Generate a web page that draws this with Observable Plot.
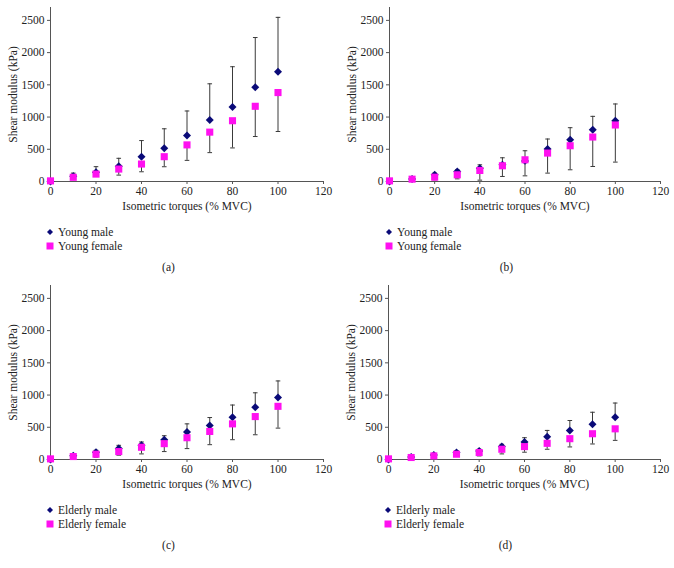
<!DOCTYPE html>
<html>
<head>
<meta charset="utf-8">
<script src="https://cdn.jsdelivr.net/npm/d3@7"></script>
<script src="https://cdn.jsdelivr.net/npm/@observablehq/plot@0.6"></script>
<style>
  body { margin: 0; background: #fff; }
  #root { position: relative; width: 674px; height: 568px; font-family: "Liberation Serif", "DejaVu Serif", serif; color: #222; }
  .panel { position: absolute; width: 337px; }
  .legend { position: absolute; font-size: 11.5px; line-height: 14px; }
  .legend div { display: flex; align-items: center; height: 14px; }
  .legend svg { margin-right: 4px; }
  .caption { position: absolute; width: 337px; text-align: center; font-size: 11.5px; }
</style>
</head>
<body>
<div id="root"></div>
<script>
// ---- data ----
const torque = [0, 10, 20, 30, 40, 50, 60, 70, 80, 90, 100];
const xTicks = [0, 20, 40, 60, 80, 100, 120];
const yTicks = [0, 500, 1000, 1500, 2000, 2500];
const panelLetters = ["(a)", "(b)", "(c)", "(d)"];
const maleNames = ["Young male", "Young male", "Elderly male", "Elderly male"];
const femaleNames = ["Young female", "Young female", "Elderly female", "Elderly female"];

// (a) young, (b) young, (c) elderly, (d) elderly
const maleMeanA = [0, 80, 145, 235, 385, 516, 714, 953, 1156, 1464, 1703];
const maleSDA = [0, 50, 85, 125, 250, 302, 380, 563, 625, 770, 844];
const femaleMeanA = [10, 65, 115, 193, 271, 385, 568, 766, 943, 1167, 1380];
const femaleSDA = [0, 12, 37, 94, 120, 156, 240, 318, 422, 469, 604];

const maleMeanB = [0, 40, 104, 155, 207, 259, 320, 503, 648, 804, 944];
const maleSDB = [0, 10, 26, 25, 52, 109, 157, 156, 187, 207, 259];
const femaleMeanB = [10, 36, 67, 104, 171, 244, 337, 441, 555, 690, 877];
const femaleSDB = [0, 10, 41, 63, 150, 166, 249, 311, 373, 457, 576];

const maleMeanC = [0, 60, 113, 169, 220, 307, 425, 528, 656, 809, 963];
const maleSDC = [0, 17, 30, 51, 52, 62, 128, 123, 189, 226, 256];
const femaleMeanC = [10, 46, 82, 123, 190, 246, 338, 435, 553, 666, 825];
const femaleSDC = [0, 10, 46, 56, 103, 123, 169, 205, 246, 282, 338];

const maleMeanD = [0, 40, 70, 108, 133, 200, 272, 353, 451, 548, 656];
const maleSDD = [0, 8, 15, 25, 26, 36, 66, 98, 154, 185, 220];
const femaleMeanD = [10, 31, 56, 82, 108, 159, 200, 251, 323, 400, 476];
const femaleSDD = [0, 8, 10, 31, 52, 72, 87, 92, 128, 159, 179];

const maleColor = "#0a0a78";
const femaleColor = "#ff10f0";
const barColor = "#3a3a3a";

// ---- layout ----
const panels = [
  {m: maleMeanA, ms: maleSDA, f: femaleMeanA, fs: femaleSDA, left: 0, top: 0, ml: 50, mr: 14},
  {m: maleMeanB, ms: maleSDB, f: femaleMeanB, fs: femaleSDB, left: 338, top: 0, ml: 51, mr: 14},
  {m: maleMeanC, ms: maleSDC, f: femaleMeanC, fs: femaleSDC, left: 0, top: 278, ml: 50, mr: 14},
  {m: maleMeanD, ms: maleSDD, f: femaleMeanD, fs: femaleSDD, left: 337, top: 278, ml: 51, mr: 14}
];

const capSymbol = {
  draw(context) { context.moveTo(-2.3, 0); context.lineTo(2.3, 0); }
};

const root = document.getElementById("root");

panels.forEach((p, i) => {
  const male = torque.map((x, k) => ({x, y: p.m[k], lo: p.m[k], hi: p.m[k] + p.ms[k]}));
  const female = torque.map((x, k) => ({x, y: p.f[k], lo: p.f[k] - p.fs[k], hi: p.f[k]}));
  const maleBars = male.filter(d => d.hi > d.lo);
  const femaleBars = female.filter(d => d.hi > d.lo);

  const chart = Plot.plot({
    width: 337 - (p.left === 338 ? 1 : 0),
    height: 216,
    marginLeft: p.ml,
    marginRight: p.mr,
    marginTop: 7,
    marginBottom: 35,
    style: {fontFamily: "'Liberation Serif', 'DejaVu Serif', serif", fontSize: "11.5px", color: "#222", background: "white"},
    x: {domain: [0, 120]},
    y: {domain: [0, 2700]},
    marks: [
      Plot.ruleX([0], {stroke: "#555"}),
      Plot.ruleY([0], {stroke: "#555"}),
      Plot.axisX({ticks: xTicks, tickFormat: d => String(d), tickSize: 3, tickPadding: 2, label: "Isometric torques (% MVC)", labelAnchor: "center", labelArrow: "none", labelOffset: 28, stroke: "#555"}),
      Plot.axisY({ticks: yTicks, tickFormat: d => String(d), tickSize: 3, tickPadding: 3, label: "Shear modulus (kPa)", labelAnchor: "center", labelArrow: "none", labelOffset: 42, stroke: "#555"}),
      Plot.ruleX(maleBars, {x: "x", y1: "lo", y2: "hi", stroke: barColor, strokeWidth: 1}),
      Plot.dot(maleBars, {x: "x", y: "hi", symbol: capSymbol, r: 2, stroke: barColor, fill: "none", strokeWidth: 1}),
      Plot.ruleX(femaleBars, {x: "x", y1: "lo", y2: "hi", stroke: barColor, strokeWidth: 1}),
      Plot.dot(femaleBars, {x: "x", y: "lo", symbol: capSymbol, r: 2, stroke: barColor, fill: "none", strokeWidth: 1}),
      Plot.dot(male, {x: "x", y: "y", symbol: "diamond2", r: 3.6, fill: maleColor, stroke: "none"}),
      Plot.dot(female, {x: "x", y: "y", symbol: "square", r: 4, fill: femaleColor, stroke: "none"})
    ]
  });

  const div = document.createElement("div");
  div.className = "panel";
  div.style.left = p.left + "px";
  div.style.top = p.top + "px";
  div.appendChild(chart);
  root.appendChild(div);

  const leg = document.createElement("div");
  leg.className = "legend";
  leg.style.left = (p.left + p.ml - 4) + "px";
  leg.style.top = (p.top + 225) + "px";
  leg.innerHTML =
    `<div><svg width="8" height="8" viewBox="-4 -4 8 8"><path d="M0,-3L3,0L0,3L-3,0Z" fill="${maleColor}"/></svg>${maleNames[i]}</div>` +
    `<div><svg width="8" height="8" viewBox="-4 -4 8 8"><rect x="-3.5" y="-3.5" width="7" height="7" fill="${femaleColor}"/></svg>${femaleNames[i]}</div>`;
  root.appendChild(leg);

  const cap = document.createElement("div");
  cap.className = "caption";
  cap.style.left = p.left + "px";
  cap.style.top = (p.top + 261) + "px";
  cap.textContent = panelLetters[i];
  root.appendChild(cap);
});
</script>
</body>
</html>
